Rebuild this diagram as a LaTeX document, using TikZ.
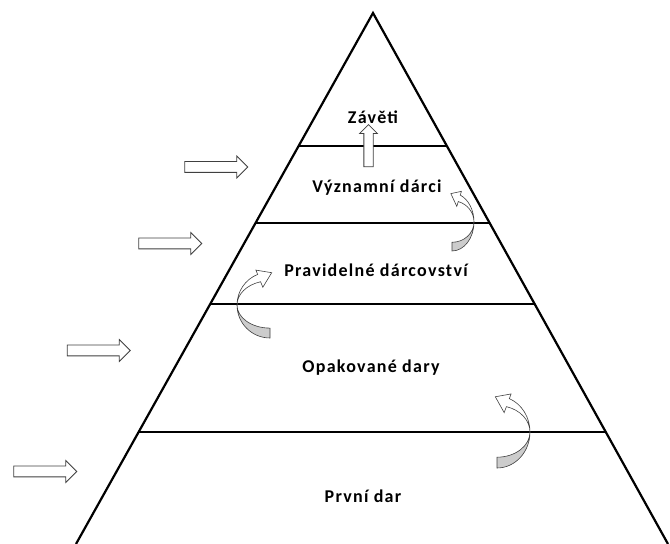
\documentclass[tikz,border=0pt]{standalone}
\usepackage{fontspec}
\setmainfont{Carlito}
\newfontfamily\tierfont{Carlito}[LetterSpace=7]
\usetikzlibrary{calc,shapes.arrows}
\tikzset{
  edge/.style={line width=2.2pt,line join=miter},
  level/.style={line width=1.8pt},
  tier/.style={font=\tierfont\bfseries\fontsize{18}{21}\selectfont,inner sep=0pt},
  feed/.style={single arrow,draw=black!75,fill=white,line width=0.8pt,
    minimum height=63pt,minimum width=21pt,single arrow head extend=5.5pt,
    inner xsep=0pt,inner ysep=5pt},
  turnback/.style={draw=black!75,fill=black!20,line width=0.6pt},
  turnfront/.style={draw=black!75,fill=white,line width=0.6pt}
}
% curved block arrow: [xscale] centre x, centre y, x radius, y radius
\newcommand{\turnarrow}[5][1]{%
  \begin{scope}[shift={(#2,#3)},xscale=#1,x=#4pt,y=#5pt]
    \filldraw[turnback] (0:1) arc[start angle=0,end angle=-90,radius=1] -- (-90:0.7)
      arc[start angle=-90,end angle=0,x radius=1,y radius=0.7] -- cycle;
    \filldraw[turnfront] (0:1) arc[start angle=0,end angle=68,radius=1] -- (68:1.14) -- (93:0.98)
      -- (68:0.58) -- (68:0.76) arc[start angle=73.4,end angle=0,x radius=1,y radius=0.736] -- cycle;
  \end{scope}}
\begin{document}
\begin{tikzpicture}[x=1pt,y=1pt]
\useasboundingbox (0,0) rectangle (670,544);

\coordinate (apex) at (373,531);
\coordinate (bl) at (76,0);
\coordinate (br) at (668,0);
\draw[edge] (bl) -- (apex) -- (br);

\foreach \t [count=\i] in {0.2505,0.3955,0.548,0.789} {
  \coordinate (l\i) at ($(apex)!\t!(bl)$);
  \coordinate (r\i) at ($(apex)!\t!(br)$);
  \draw[level] (l\i) -- (r\i);
}

\node[tier] (zaveti) at (373,427) {Závěti};
\node[tier] (vyznamni) at (377,356) {Významní dárci};
\node[tier] (pravidelne) at (376,274) {Pravidelné dárcovství};
\node[tier] (opakovane) at (371,176) {Opakované dary};
\node[tier] (prvni) at (363,48) {První dar};

\node[feed] (feed1) at (213.5,377) {};
\node[feed] (feed2) at (167.5,300.5) {};
\node[feed] (feed3) at (96,193.5) {};
\node[feed] (feed4) at (42.5,72.5) {};

\node[feed,rotate=90,minimum height=42pt,minimum width=17pt,
  single arrow head extend=4.25pt,inner ysep=4.25pt] (rise) at (368.5,396) {};

\turnarrow{452}{322}{22}{29}
\turnarrow[-1]{270}{239}{33}{33}
\turnarrow{497}{112}{33}{36}

\end{tikzpicture}
\end{document}
